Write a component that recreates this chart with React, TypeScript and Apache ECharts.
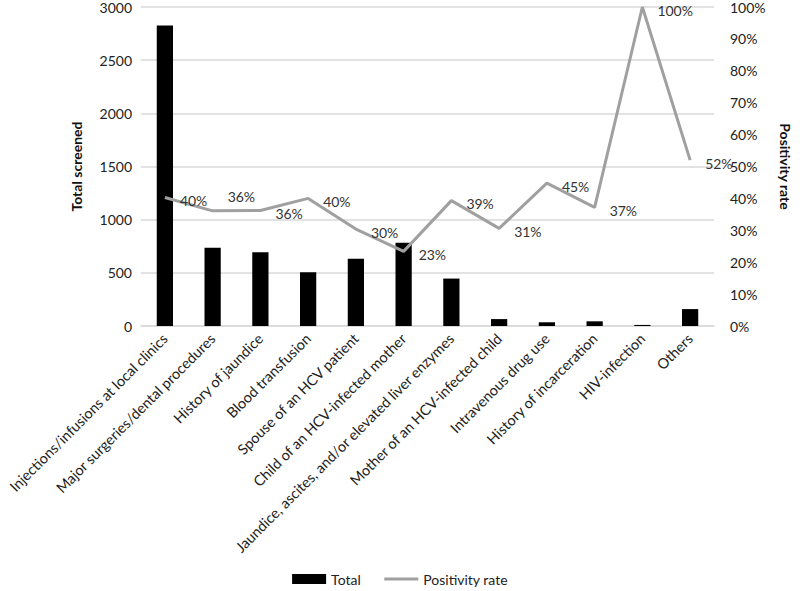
import React, { useEffect, useRef } from "react";
import * as echarts from "echarts";

const categories = [
  "Injections/infusions at local clinics",
  "Major surgeries/dental procedures",
  "History of jaundice",
  "Blood transfusion",
  "Spouse of an HCV patient",
  "Child of an HCV-infected mother",
  "Jaundice, ascites, and/or elevated liver enzymes",
  "Mother of an HCV-infected child",
  "Intravenous drug use",
  "History of incarceration",
  "HIV-infection",
  "Others",
];

const totalScreened = [2825, 735, 694, 505, 633, 782, 446, 65, 35, 44, 10, 159];
const positivityRate = [40.3, 36.1, 36.2, 40.0, 30.4, 23.4, 39.3, 30.6, 44.8, 37.2, 100, 52.0];
const positivityLabels = ["40%", "36%", "36%", "40%", "30%", "23%", "39%", "31%", "45%", "37%", "100%", "52%"];

const leftTicks = [0, 500, 1000, 1500, 2000, 2500, 3000];

const FONT = "Lato, 'Open Sans', sans-serif";
const LINE_COLOR = "#a0a0a0";

export default function App() {
  const ref = useRef<HTMLDivElement>(null);
  useEffect(() => {
    if (!ref.current) return;
    const chart = echarts.init(ref.current, undefined, { renderer: "svg" });
    chart.setOption({
      animation: false,
      textStyle: { fontFamily: FONT },
      grid: { left: 141, right: 79, top: 5, bottom: 265, containLabel: false },
      legend: {
        bottom: 0,
        left: "center",
        itemGap: 22,
        itemWidth: 34,
        itemHeight: 10,
        textStyle: { fontFamily: FONT, fontSize: 14, color: "#222" },
        data: [
          { name: "Total", icon: "rect" },
          {
            name: "Positivity rate",
            icon: "line",
            itemStyle: { borderWidth: 3, borderColor: LINE_COLOR, color: LINE_COLOR },
          },
        ],
      },
      xAxis: {
        type: "category",
        data: categories,
        axisTick: { show: false },
        axisLine: { lineStyle: { color: "#d9d9d9", width: 1.5 } },
        axisLabel: {
          interval: 0,
          rotate: 45,
          fontSize: 14.5,
          color: "#222",
          fontFamily: FONT,
          margin: 10,
        },
      },
      yAxis: [
        {
          type: "value",
          min: leftTicks[0],
          max: leftTicks[leftTicks.length - 1],
          interval: 500,
          name: "Total screened",
          nameLocation: "middle",
          nameGap: 58,
          nameTextStyle: { fontWeight: "bold", fontSize: 14, color: "#111", fontFamily: FONT },
          axisLabel: { fontSize: 14, color: "#222", margin: 9, fontFamily: FONT, formatter: (v: number) => String(v) },
          splitLine: { lineStyle: { color: "#d9d9d9", width: 1.5 } },
          axisLine: { show: false },
          axisTick: { show: false },
        },
        {
          type: "value",
          min: 0,
          max: 100,
          interval: 10,
          name: "Positivity rate",
          nameLocation: "middle",
          nameGap: 64,
          nameRotate: -90,
          nameTextStyle: { fontWeight: "bold", fontSize: 14, color: "#111", fontFamily: FONT },
          axisLabel: { fontSize: 14, color: "#222", margin: 16, formatter: "{value}%", fontFamily: FONT },
          splitLine: { show: false },
          axisLine: { show: false },
          axisTick: { show: false },
        },
      ],
      series: [
        {
          name: "Total",
          type: "bar",
          data: totalScreened,
          barWidth: "34%",
          itemStyle: { color: "#000" },
          yAxisIndex: 0,
        },
        {
          name: "Positivity rate",
          type: "line",
          yAxisIndex: 1,
          symbol: "none",
          lineStyle: { color: LINE_COLOR, width: 3 },
          itemStyle: { color: LINE_COLOR },
          data: positivityRate,
          z: 3,
        },
        {
          name: "labels",
          type: "scatter",
          yAxisIndex: 1,
          symbolSize: 2,
          itemStyle: { color: "rgba(0,0,0,0)", opacity: 1 },
          silent: true,
          z: 4,
          data: positivityRate.map((v, i) => ({
            value: v,
            label: {
              show: true,
              position: "right",
              distance: 14,
              offset: i === 1 ? [0, -14] : [0, 3],
              formatter: positivityLabels[i],
              fontSize: 14,
              color: "#333",
              opacity: 1,
              fontFamily: FONT,
            },
          })),
        },
      ],
    });
    return () => chart.dispose();
  }, []);
  return <div ref={ref} style={{ width: 800, height: 591, position: "absolute", left: 0, top: 0 }} />;
}
